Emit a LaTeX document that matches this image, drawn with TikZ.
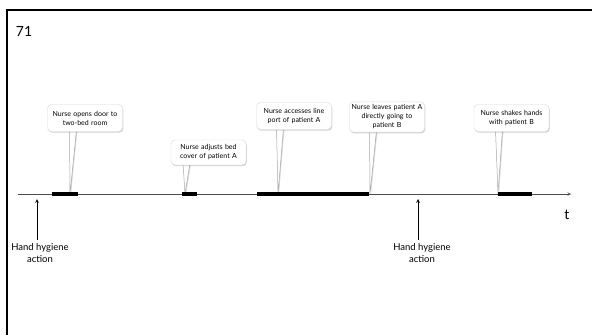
\documentclass[tikz,border=0pt]{standalone}
\usepackage{fontspec}
\setmainfont{Lato}
\usetikzlibrary{shadows}
\pgfdeclarelayer{bg}
\pgfsetlayers{bg,main}

\begin{document}
\begin{tikzpicture}[x=1pt, y=-1pt, >=stealth,
  callbox/.style={fill=white, draw=black!15, rounded corners=4pt,
    font=\fontsize{7}{9}\selectfont, align=center, text width=72pt,
    minimum height=27pt, inner xsep=1.5pt, inner ysep=3pt,
    drop shadow={shadow xshift=0.8pt, shadow yshift=-1.2pt, opacity=0.35}},
  pointer/.style={fill=white, draw=black!35, line width=0.5pt,
    drop shadow={shadow xshift=1pt, shadow yshift=-0.5pt, opacity=0.3}},
  seg/.style={line width=3.2pt},
  hhlabel/.style={font=\fontsize{9.5}{12}\selectfont, align=center}]
  \useasboundingbox (0,0) rectangle (592,335);

  % 边框与编号
  \draw[line width=2pt] (6.5,335) -- (6.5,10) -- (592,10);
  \node (num) at (24,31) {\fontsize{14}{16}\selectfont 71};

  % 时间轴
  \coordinate (t0) at (18,194);
  \coordinate (t1) at (571,194);
  \draw[->, black!70, line width=0.6pt] (t0) -- (t1);
  \node (tlab) at (567,215) {\fontsize{14}{16}\selectfont t};

  % 事件区段
  \coordinate (s1a) at (52,194);  \coordinate (s1b) at (78,194);
  \coordinate (s2a) at (182,194); \coordinate (s2b) at (197,194);
  \coordinate (s3a) at (257,194); \coordinate (s3b) at (369,194);
  \coordinate (s4a) at (498,194); \coordinate (s4b) at (532,194);
  \draw[seg] (s1a) -- (s1b);
  \draw[seg] (s2a) -- (s2b);
  \draw[seg] (s3a) -- (s3b);
  \draw[seg] (s4a) -- (s4b);

  % 说明框
  \node[callbox] (c1) at (85,118) {Nurse opens door to\\two-bed room};
  \node[callbox, minimum height=25pt] (c2) at (208.5,152.5) {Nurse adjusts bed\\cover of patient A};
  \node[callbox] (c3) at (294,116) {Nurse accesses line\\port of patient A};
  \node[callbox] (c4) at (387,117) {Nurse leaves patient A\\directly going to\\patient B};
  \node[callbox] (c5) at (511.5,118) {Nurse shakes hands\\with patient B};

  % 指针
  \coordinate (p1) at (70,194);
  \coordinate (p2) at (185,194);
  \coordinate (p3) at (278,194);
  \coordinate (p4) at (370,194);
  \coordinate (p5) at (498,194);
  \begin{pgfonlayer}{bg}
    \path[pointer] ([xshift=-15.5pt,yshift=2pt]c1.south) -- (p1) -- ([xshift=-8.5pt,yshift=2pt]c1.south) -- cycle;
    \path[pointer] ([xshift=-25.5pt,yshift=2pt]c2.south) -- (p2) -- ([xshift=-18.5pt,yshift=2pt]c2.south) -- cycle;
    \path[pointer] ([xshift=-17.5pt,yshift=2pt]c3.south) -- (p3) -- ([xshift=-10.5pt,yshift=2pt]c3.south) -- cycle;
    \path[pointer] ([xshift=-17.5pt,yshift=2pt]c4.south) -- (p4) -- ([xshift=-10.5pt,yshift=2pt]c4.south) -- cycle;
    \path[pointer] ([xshift=-16pt,yshift=2pt]c5.south) -- (p5) -- ([xshift=-9pt,yshift=2pt]c5.south) -- cycle;
  \end{pgfonlayer}

  % 手卫生
  \node[hhlabel] (hh1) at (40,253) {Hand hygiene\\action};
  \node[hhlabel] (hh2) at (422,253) {Hand hygiene\\action};
  \coordinate (h1) at (37,199);
  \coordinate (h2) at (418,199);
  \draw[->, line width=0.7pt] (h1 |- hh1.north) -- (h1);
  \draw[->, line width=0.7pt] (h2 |- hh2.north) -- (h2);
\end{tikzpicture}
\end{document}
